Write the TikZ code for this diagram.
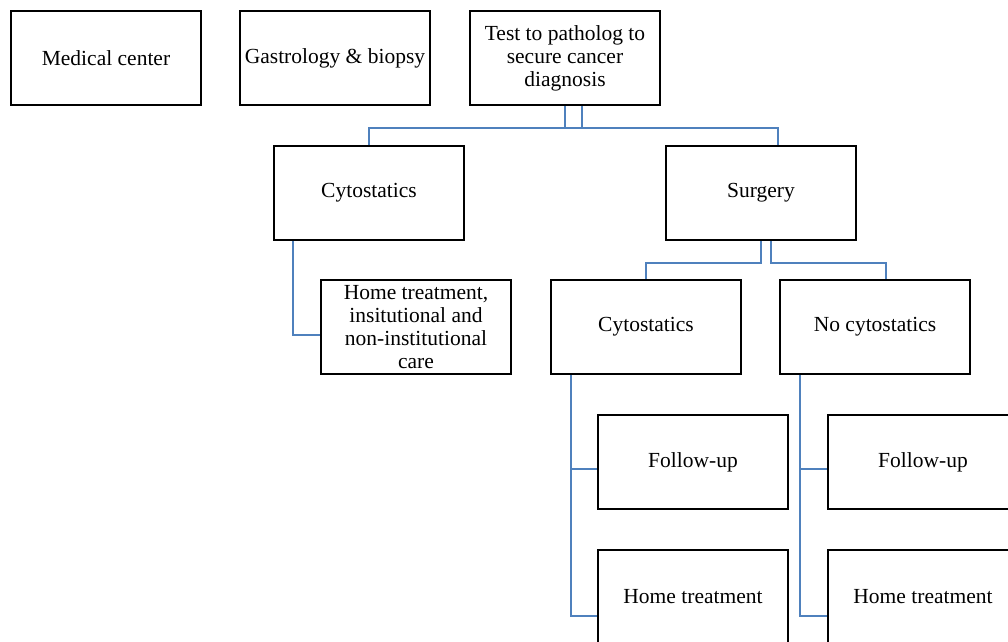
\documentclass[tikz,border=0pt]{standalone}
\usepackage{fontspec}
\setmainfont{Liberation Serif}
\definecolor{connblue}{HTML}{4F81BD}
\begin{document}
\begin{tikzpicture}[x=1pt,y=-1pt,
  box/.style={draw=black,line width=2pt,fill=white,minimum width=190pt,minimum height=94pt,align=center,inner sep=1pt,font=\fontsize{21.5}{23}\selectfont},
  conn/.style={draw=connblue,line width=2pt}]
\useasboundingbox (0,0) rectangle (1008,641);
\clip (0,0) rectangle (1008,641);
\node[box] (med) at (106,58) {Medical center};
\node[box] (gas) at (335,58) {Gastrology \& biopsy};
\node[box] (test) at (565,58) {Test to patholog to\\secure cancer\\diagnosis};
\node[box] (cyt1) at (369,193) {Cytostatics};
\node[box] (surg) at (761,193) {Surgery};
\node[box] (home1) at (416,327) {Home treatment,\\insitutional and\\non-institutional\\care};
\node[box] (cyt2) at (646,327) {Cytostatics};
\node[box] (nocyt) at (875,327) {No cytostatics};
\node[box] (fu1) at (693,462) {Follow-up};
\node[box] (ht1) at (693,597) {Home treatment};
\node[box] (fu2) at (923,462) {Follow-up};
\node[box] (ht2) at (923,597) {Home treatment};
\draw[conn] ([xshift=17]test.south) -- ++(0,22) -| (cyt1.north);
\draw[conn] (test.south) -- ++(0,22) -| ([xshift=17]surg.north);
\draw[conn] (surg.south) -- ++(0,22) -| (cyt2.north);
\draw[conn] ([xshift=10]surg.south) -- ++(0,22) -| ([xshift=11]nocyt.north);
\draw[conn] ([xshift=-76]cyt1.south) |- ([yshift=-8]home1.west);
\draw[conn] ([xshift=-75]cyt2.south) |- ([yshift=-7]fu1.west);
\draw[conn] ([xshift=-75]cyt2.south) |- ([yshift=-19]ht1.west);
\draw[conn] ([xshift=-75]nocyt.south) |- ([yshift=-7]fu2.west);
\draw[conn] ([xshift=-75]nocyt.south) |- ([yshift=-19]ht2.west);
\end{tikzpicture}
\end{document}
